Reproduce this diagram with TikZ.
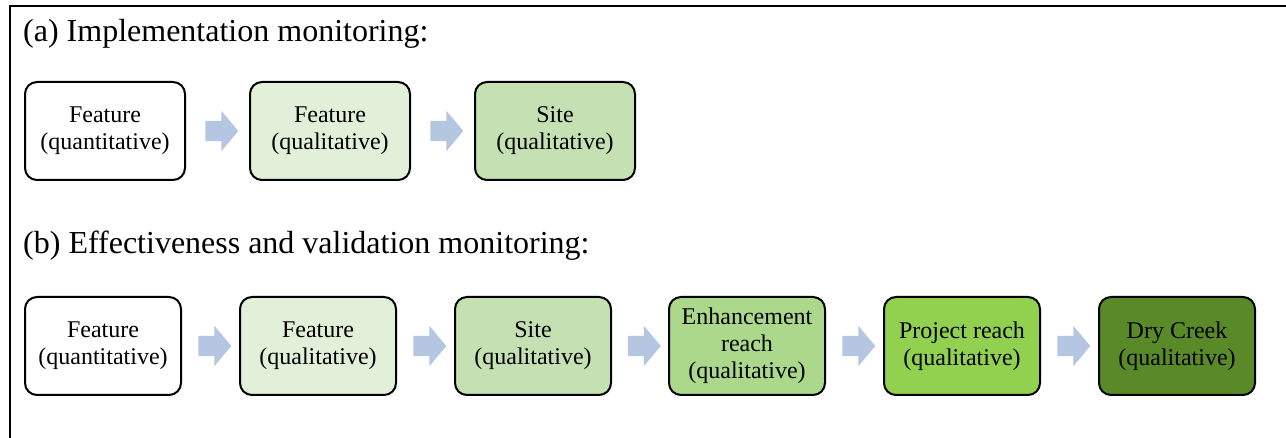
\documentclass[tikz,border=0pt]{standalone}
\usepackage{fontspec}
\setmainfont{Liberation Serif}
\usetikzlibrary{calc,shapes.arrows}

\definecolor{lv0}{HTML}{FFFFFF}
\definecolor{lv1}{HTML}{E2EFD9}
\definecolor{lv2}{HTML}{C5E0B3}
\definecolor{lv3}{HTML}{ABD88A}
\definecolor{lv4}{HTML}{92D050}
\definecolor{lv5}{HTML}{5A8A28}
\definecolor{flowblue}{HTML}{B4C6E2}

\tikzset{
  stage/.style={draw=black, line width=2pt, rounded corners=12pt,
    minimum height=98pt, align=center, inner sep=2pt,
    font=\fontsize{24}{27}\selectfont},
  stagea/.style={stage, minimum width=160pt},
  stageb/.style={stage, minimum width=156pt},
  flow/.style={single arrow, fill=flowblue, draw=none, inner sep=10pt,
    minimum height=33pt, single arrow head extend=10pt,
    single arrow tip angle=100, shape border rotate=0},
  heading/.style={anchor=base west, inner sep=0pt,
    font=\fontsize{32}{36}\selectfont},
  frame/.style={line width=2.5pt, line cap=rect}
}

\begin{document}
\begin{tikzpicture}[x=1pt, y=-1pt]
  \useasboundingbox (0,0) rectangle (1286,438);

  % open frame: top and left rules
  \coordinate (fTL) at (10,6);
  \coordinate (fTR) at (1290,6);
  \coordinate (fBL) at (10,442);
  \draw[frame] (fTR) -- (fTL) -- (fBL);

  % (a) implementation monitoring
  \node[heading] (ha) at (23,42) {(a) Implementation monitoring:};
  \node[stagea, fill=lv0] (a1) at (105,131) {Feature\\(quantitative)};
  \node[stagea, fill=lv1] (a2) at (330,131) {Feature\\(qualitative)};
  \node[stagea, fill=lv2] (a3) at (555,131) {Site\\(qualitative)};
  \node[flow] (fa1) at ($(a1.east)!0.5!(a2.west)$) {};
  \node[flow] (fa2) at ($(a2.east)!0.5!(a3.west)$) {};

  % (b) effectiveness and validation monitoring
  \node[heading] (hb) at (23,254) {(b) Effectiveness and validation monitoring:};
  \node[stageb, fill=lv0] (b1) at (103,346) {Feature\\(quantitative)};
  \node[stageb, fill=lv1] (b2) at (318,346) {Feature\\(qualitative)};
  \node[stageb, fill=lv2] (b3) at (533,346) {Site\\(qualitative)};
  \node[stageb, fill=lv3] (b4) at (747,346) {Enhancement\\reach\\(qualitative)};
  \node[stageb, fill=lv4] (b5) at (962,346) {Project reach\\(qualitative)};
  \node[stageb, fill=lv5] (b6) at (1177,346) {Dry Creek\\(qualitative)};
  \foreach \p/\q in {b1/b2, b2/b3, b3/b4, b4/b5, b5/b6}
    \node[flow] (f\p) at ($(\p.east)!0.5!(\q.west)$) {};
\end{tikzpicture}
\end{document}
